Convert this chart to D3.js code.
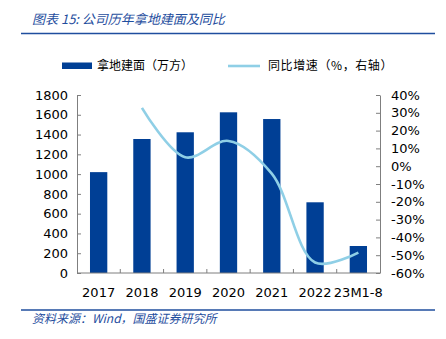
<!DOCTYPE html>
<html lang="zh-CN">
<head>
<meta charset="UTF-8">
<title>公司历年拿地建面及同比</title>
<script src="https://d3js.org/d3.v7.min.js"></script>
<style>
  body { margin: 0; background: #fff; }
  svg text { font-family: "DejaVu Sans", "Noto Sans CJK SC", sans-serif; }
  .cjk { font-family: "Noto Sans CJK SC", sans-serif !important; }
</style>
</head>
<body>
<svg width="446" height="339"></svg>
<script>
  const categories = ["2017", "2018", "2019", "2020", "2021", "2022", "23M1-8"];
  const area = [1020, 1355, 1423, 1625, 1557, 715, 273];
  const growth = [null, 32.8, 5.0, 14.2, -4.2, -54.1, -48.5];
  const leftTicks = [0, 200, 400, 600, 800, 1000, 1200, 1400, 1600, 1800];
  const rightTicks = [-60, -50, -40, -30, -20, -10, 0, 10, 20, 30, 40];

  const barColor = "#003f95";
  const lineColor = "#8fcfe6";
  const titleColor = "#1f4e9e";
  const axisColor = "#7f7f7f";

  const plotL = 77, plotR = 380, plotT = 95, plotB = 273;
  const svg = d3.select("svg");

  // title + rules
  svg.append("text").attr("class", "cjk")
    .attr("x", 32).attr("y", 23.5)
    .attr("fill", titleColor).attr("font-size", 13).attr("font-style", "italic")
    .text("图表 15:  公司历年拿地建面及同比");
  svg.append("line").attr("x1", 21).attr("x2", 435).attr("y1", 33.5).attr("y2", 33.5)
    .attr("stroke", titleColor).attr("stroke-width", 1.5);
  svg.append("line").attr("x1", 21).attr("x2", 435).attr("y1", 310).attr("y2", 310)
    .attr("stroke", titleColor).attr("stroke-width", 1.5);
  svg.append("text").attr("class", "cjk")
    .attr("x", 32).attr("y", 323)
    .attr("fill", titleColor).attr("font-size", 12).attr("font-style", "italic")
    .text("资料来源：Wind，国盛证券研究所");

  // scales
  const x = d3.scaleBand().domain(categories).range([plotL, plotR])
    .paddingInner(0.6).paddingOuter(0.3);
  const y = d3.scaleLinear().domain([0, 1800]).range([plotB, plotT]);
  const y2 = d3.scaleLinear().domain([-60, 40]).range([plotB, plotT]);

  // bars
  svg.selectAll(".bar").data(area).enter().append("rect")
    .attr("x", (d, i) => x(categories[i]))
    .attr("y", d => y(d))
    .attr("width", x.bandwidth())
    .attr("height", d => plotB - y(d))
    .attr("fill", barColor);

  // line
  const pts = growth.map((v, i) => [x(categories[i]) + x.bandwidth() / 2, v]).filter(p => p[1] !== null);
  svg.append("path").datum(pts)
    .attr("fill", "none").attr("stroke", lineColor).attr("stroke-width", 2.6)
    .attr("d", d3.line().x(d => d[0]).y(d => y2(d[1])).curve(d3.curveCatmullRom.alpha(0.5)));

  // left axis
  const gl = svg.append("g").attr("transform", `translate(${plotL},0)`)
    .call(d3.axisLeft(y).tickValues(leftTicks).tickFormat(d3.format("d"))
      .tickSizeInner(-4).tickSizeOuter(0).tickPadding(9));
  // right axis
  const gr = svg.append("g").attr("transform", `translate(${plotR},0)`)
    .call(d3.axisRight(y2).tickValues(rightTicks).tickFormat(d => d + "%")
      .tickSizeInner(-4).tickSizeOuter(0).tickPadding(11));
  [gl, gr].forEach(g => {
    g.select(".domain").attr("stroke", axisColor);
    g.selectAll(".tick line").attr("stroke", axisColor);
    g.selectAll("text").attr("font-size", 13).attr("fill", "#000")
      .style("font-family", "'DejaVu Sans', sans-serif");
  });

  // x axis
  const gx = svg.append("g");
  gx.append("line").attr("x1", plotL).attr("x2", plotR).attr("y1", plotB).attr("y2", plotB)
    .attr("stroke", axisColor);
  gx.selectAll(".xt").data(categories.slice(1)).enter().append("line")
    .attr("x1", d => x(d) - x.step() * 0.3).attr("x2", d => x(d) - x.step() * 0.3)
    .attr("y1", plotB).attr("y2", plotB - 4).attr("stroke", axisColor);
  gx.selectAll(".xl").data(categories).enter().append("text")
    .attr("x", d => x(d) + x.bandwidth() / 2).attr("y", 297)
    .attr("text-anchor", "middle").attr("font-size", 13).attr("fill", "#000")
    .text(d => d);

  // legend
  svg.append("rect").attr("x", 62).attr("y", 62.5).attr("width", 30).attr("height", 6.5).attr("fill", barColor);
  svg.append("text").attr("class", "cjk").attr("x", 97).attr("y", 70)
    .attr("font-size", 12).attr("fill", "#000").text("拿地建面（万方）");
  svg.append("line").attr("x1", 228).attr("x2", 260).attr("y1", 66).attr("y2", 66)
    .attr("stroke", lineColor).attr("stroke-width", 2.6);
  svg.append("text").attr("class", "cjk").attr("x", 268).attr("y", 70)
    .attr("font-size", 12).attr("fill", "#000").attr("letter-spacing", 0.6).text("同比增速（%，右轴）");
</script>
</body>
</html>
